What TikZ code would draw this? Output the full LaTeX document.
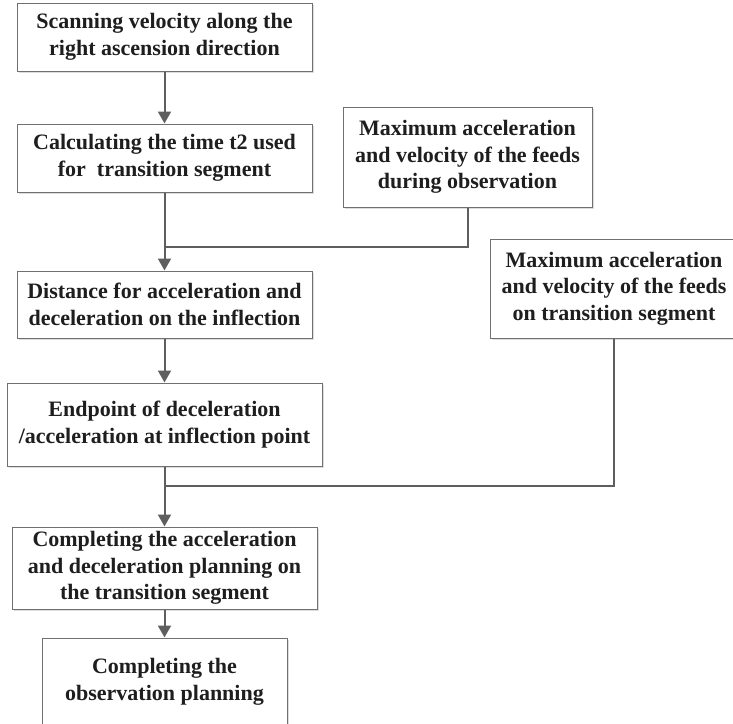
\documentclass[tikz,border=0pt]{standalone}
\usepackage{fontspec}
\setmainfont{Liberation Serif}
\usetikzlibrary{arrows.meta,shadows}
\definecolor{linec}{HTML}{5E5E5E}
\definecolor{boxc}{HTML}{707070}
\definecolor{txtc}{HTML}{1E1E1E}
\begin{document}
\begin{tikzpicture}[x=1pt,y=1pt,
  box/.style={draw=boxc, line width=1pt, fill=white, inner sep=0pt, align=center,
    text=txtc, font=\fontsize{22}{26.5}\selectfont\bfseries,
    drop shadow={shadow xshift=1.6pt, shadow yshift=-1.6pt, fill=gray!45, opacity=0.6}},
  conn/.style={draw=linec, line width=2pt},
  arr/.style={conn, -{Triangle[width=13pt,length=12pt]}}]
\useasboundingbox (0,0) rectangle (733,-723);
\clip (0,0) rectangle (733,-723);
\node[box, minimum width=295pt, minimum height=68pt] (b1) at (164.5,-37)
  {Scanning velocity along the\\right ascension direction};
\node[box, minimum width=295pt, minimum height=68pt] (b2) at (164.5,-158)
  {Calculating the time t2 used\\for\ \ transition segment};
\node[box, minimum width=249pt, minimum height=100pt] (b3) at (467.5,-157)
  {Maximum acceleration\\and velocity of the feeds\\during observation};
\node[box, minimum width=295pt, minimum height=67pt] (b4) at (164.5,-304.5)
  {Distance for acceleration and\\deceleration on the inflection};
\node[box, minimum width=248pt, minimum height=99pt] (b5) at (614,-288.5)
  {Maximum acceleration\\and velocity of the feeds\\on transition segment};
\node[box, minimum width=315pt, minimum height=83pt] (b6) at (164.5,-424.5)
  {Endpoint of deceleration\\/acceleration at inflection point};
\node[box, minimum width=305pt, minimum height=82pt] (b7) at (164.5,-568)
  {Completing the acceleration\\and deceleration planning on\\the transition segment};
\node[box, minimum width=245pt, minimum height=88pt] (b8) at (164.5,-682)
  {Completing the\\observation planning};
\coordinate (j1) at (164.5,-247);
\coordinate (j2) at (164.5,-486);
\draw[arr] (b1.south) -- (b2.north);
\draw[arr] (b2.south) -- (b4.north);
\draw[conn] (b3.south) |- (j1);
\draw[arr] (b4.south) -- (b6.north);
\draw[arr] (b6.south) -- (b7.north);
\draw[conn] (b5.south) |- (j2);
\draw[arr] (b7.south) -- (b8.north);
\end{tikzpicture}
\end{document}
